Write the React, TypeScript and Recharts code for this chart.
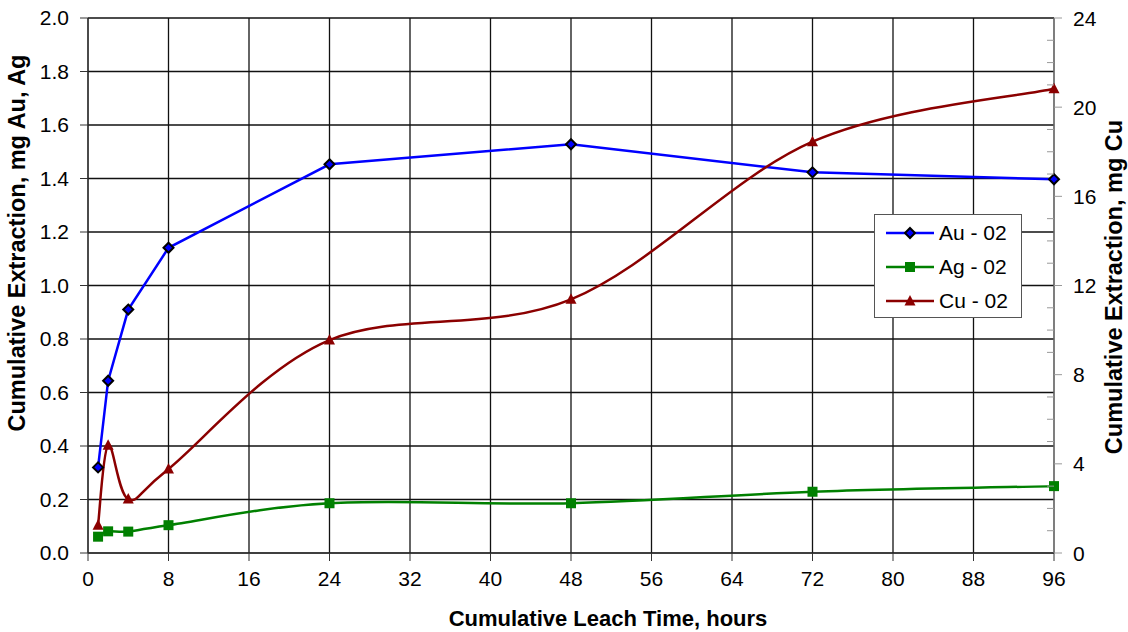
import React from "react";
import { LineChart, Line, XAxis, YAxis, CartesianGrid, Legend, Label } from "recharts";

// leach test 02 – cumulative metal extraction
const HOURS = [1, 2, 4, 8, 24, 48, 72, 96];
const AU_02 = [0.32, 0.644, 0.91, 1.141, 1.453, 1.528, 1.423, 1.397];
const AG_02 = [0.061, 0.081, 0.08, 0.104, 0.186, 0.186, 0.229, 0.25];
const CU_02 = [1.24, 4.83, 2.42, 3.77, 9.55, 11.38, 18.45, 20.83];

const HOUR_TICKS = [0, 8, 16, 24, 32, 40, 48, 56, 64, 72, 80, 88, 96];
const AU_AG_TICKS = [0, 0.2, 0.4, 0.6, 0.8, 1.0, 1.2, 1.4, 1.6, 1.8, 2.0];
// every unit gets a small inside tick, labels only on the multiples of 4
const CU_TICKS = [0, 1, 2, 3, 4, 5, 6, 7, 8, 9, 10, 11, 12, 13, 14, 15, 16, 17, 18, 19, 20, 21, 22, 23, 24];

const FONT = "'Liberation Sans', Arial, sans-serif";
const AU_COLOR = "#0000ff";
const AG_COLOR = "#008000";
const CU_COLOR = "#8b0000";
const GRID = "#111";
const TICK_SIZE = 8;
const TICK_MARGIN = 11;

const data = HOURS.map((h, i) => ({ hours: h, au: AU_02[i], ag: AG_02[i], cu: CU_02[i] }));

// Excel-style smoothed line (uniform Catmull-Rom through every point)
const excelSmooth = (context: any) => {
    let pts: number[][] = [];
    return {
        areaStart() {},
        areaEnd() {},
        lineStart() { pts = []; },
        point(x: number, y: number) { pts.push([+x, +y]); },
        lineEnd() {
            if (!pts.length) return;
            context.moveTo(pts[0][0], pts[0][1]);
            for (let i = 0; i < pts.length - 1; i++) {
                const p0 = pts[Math.max(i - 1, 0)];
                const p1 = pts[i];
                const p2 = pts[i + 1];
                const p3 = pts[Math.min(i + 2, pts.length - 1)];
                context.bezierCurveTo(
                    p1[0] + (p2[0] - p0[0]) / 6, p1[1] + (p2[1] - p0[1]) / 6,
                    p2[0] - (p3[0] - p1[0]) / 6, p2[1] - (p3[1] - p1[1]) / 6,
                    p2[0], p2[1],
                );
            }
        },
    };
};

const diamond = (cx: number, cy: number) => (
    <path d={`M${cx},${cy - 5}L${cx + 5},${cy}L${cx},${cy + 5}L${cx - 5},${cy}Z`}
        fill={AU_COLOR} stroke="#000" strokeWidth={2} />
);
const square = (cx: number, cy: number) => (
    <rect x={cx - 5} y={cy - 5} width={10} height={10} fill={AG_COLOR} />
);
const triangle = (cx: number, cy: number) => (
    <path d={`M${cx},${cy - 6}L${cx + 5.5},${cy + 4.5}L${cx - 5.5},${cy + 4.5}Z`} fill={CU_COLOR} />
);

const dotOf = (shape: (cx: number, cy: number) => React.ReactElement) => (props: any) => {
    const { cx, cy, index } = props;
    if (cx == null || cy == null) return <g key={index} />;
    return <g key={index}>{shape(cx, cy)}</g>;
};

const SERIES = [
    { name: "Au - 02", color: AU_COLOR, shape: diamond },
    { name: "Ag - 02", color: AG_COLOR, shape: square },
    { name: "Cu - 02", color: CU_COLOR, shape: triangle },
];

const renderLegend = () => (
    <div style={{
        width: 146, height: 101, border: "1px solid #555", background: "#fff",
        fontFamily: FONT, fontSize: 21, color: "#000",
        boxSizing: "content-box", paddingTop: 1,
    }}>
        {SERIES.map((s) => (
            <div key={s.name} style={{ display: "flex", alignItems: "center", height: 34 }}>
                <svg width={64} height={20}>
                    <line x1={11} x2={59} y1={10} y2={10} stroke={s.color} strokeWidth={2.5} />
                    {s.shape(35, 10)}
                </svg>
                <span>{s.name}</span>
            </div>
        ))}
    </div>
);

const CuTick = (props: any) => {
    const { x, y, payload } = props;
    const axisX = x - TICK_SIZE - TICK_MARGIN;
    const major = payload.value % 4 === 0;
    return (
        <g>
            {major
                ? <line x1={axisX} x2={axisX + TICK_SIZE} y1={y} y2={y} stroke="#999" />
                : <line x1={axisX - 7} x2={axisX} y1={y} y2={y} stroke="#999" />}
            {major && (
                <text x={x} y={y} dy="0.36em" textAnchor="start" fill="#000"
                    fontSize={21} fontFamily={FONT}>{payload.value}</text>
            )}
        </g>
    );
};

const titleStyle = { fontFamily: FONT, fontWeight: 700, fill: "#000" };

export default function App() {
    return (
        <div style={{ position: "absolute", left: 0, top: 0, width: 1128, height: 632, background: "#fff" }}>
            <LineChart width={1128} height={632} data={data}
                margin={{ top: 18, right: 0, bottom: 0, left: 0 }}>
                <CartesianGrid yAxisId="left" stroke={GRID} strokeWidth={1.3} strokeOpacity={1} />
                <XAxis type="number" dataKey="hours" domain={[0, 96]} ticks={HOUR_TICKS} interval={0}
                    height={79} stroke="#333" tickSize={TICK_SIZE} tickMargin={10}
                    tick={{ fill: "#000", fontSize: 21, fontFamily: FONT }}>
                    <Label content={({ viewBox }: any) => (
                        <text x={viewBox.x + viewBox.width / 2 + 37} y={626} textAnchor="middle"
                            fontSize={22} {...titleStyle}>Cumulative Leach Time, hours</text>
                    )} />
                </XAxis>
                <YAxis yAxisId="left" domain={[0, 2]} ticks={AU_AG_TICKS} interval={0} width={88}
                    stroke="#333" tickSize={TICK_SIZE} tickMargin={TICK_MARGIN}
                    tickFormatter={(v: number) => v.toFixed(1)}
                    tick={{ fill: "#000", fontSize: 21, fontFamily: FONT }}>
                    <Label content={() => (
                        <text x={25} y={243} transform="rotate(-90 25 243)" textAnchor="middle"
                            fontSize={23.5} {...titleStyle}>Cumulative Extraction, mg Au, Ag</text>
                    )} />
                </YAxis>
                <YAxis yAxisId="right" orientation="right" domain={[0, 24]} ticks={CU_TICKS} interval={0}
                    width={74} stroke="#999" tickLine={false} tickSize={TICK_SIZE} tickMargin={TICK_MARGIN}
                    tick={<CuTick />}>
                    <Label content={() => (
                        <text x={1122} y={287} transform="rotate(-90 1122 287)" textAnchor="middle"
                            fontSize={23.5} {...titleStyle}>Cumulative Extraction, mg Cu</text>
                    )} />
                </YAxis>
                <Legend layout="horizontal" verticalAlign="middle" align="center"
                    wrapperStyle={{ left: 874, top: 214, width: 148 }} content={renderLegend} />
                <Line yAxisId="left" dataKey="au" name="Au - 02" type="linear" stroke={AU_COLOR}
                    strokeWidth={2.5} dot={dotOf(diamond)} activeDot={false} isAnimationActive={false} />
                <Line yAxisId="left" dataKey="ag" name="Ag - 02" type={excelSmooth as any} stroke={AG_COLOR}
                    strokeWidth={2.5} dot={dotOf(square)} activeDot={false} isAnimationActive={false} />
                <Line yAxisId="right" dataKey="cu" name="Cu - 02" type={excelSmooth as any} stroke={CU_COLOR}
                    strokeWidth={2.5} dot={dotOf(triangle)} activeDot={false} isAnimationActive={false} />
            </LineChart>
        </div>
    );
}
